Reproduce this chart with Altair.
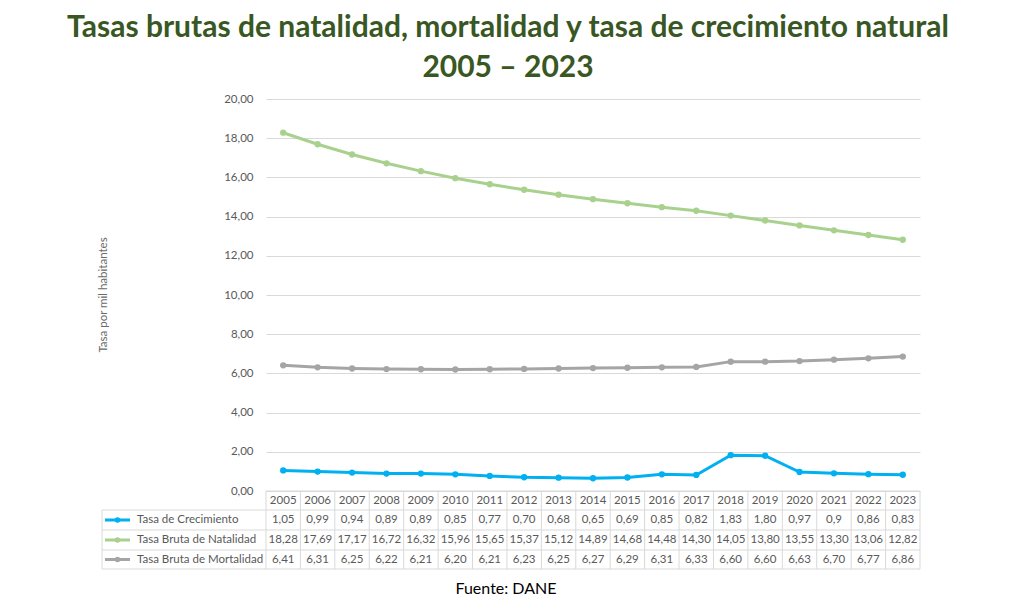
import altair as alt
import pandas as pd

years = [str(y) for y in range(2005, 2024)]
crecimiento = [1.05, 0.99, 0.94, 0.89, 0.89, 0.85, 0.77, 0.70, 0.68, 0.65,
               0.69, 0.85, 0.82, 1.83, 1.80, 0.97, 0.90, 0.86, 0.83]
natalidad = [18.28, 17.69, 17.17, 16.72, 16.32, 15.96, 15.65, 15.37, 15.12, 14.89,
             14.68, 14.48, 14.30, 14.05, 13.80, 13.55, 13.30, 13.06, 12.82]
mortalidad = [6.41, 6.31, 6.25, 6.22, 6.21, 6.20, 6.21, 6.23, 6.25, 6.27,
              6.29, 6.31, 6.33, 6.60, 6.60, 6.63, 6.70, 6.77, 6.86]
crecimiento_txt = ["1,05", "0,99", "0,94", "0,89", "0,89", "0,85", "0,77", "0,70", "0,68", "0,65",
                   "0,69", "0,85", "0,82", "1,83", "1,80", "0,97", "0,9", "0,86", "0,83"]
series = ["Tasa de Crecimiento", "Tasa Bruta de Natalidad", "Tasa Bruta de Mortalidad"]
colors = ["#00B0F0", "#A9D18E", "#A5A5A5"]
y_ticks = [0, 2, 4, 6, 8, 10, 12, 14, 16, 18, 20]
title_lines = ["Tasas brutas de natalidad, mortalidad y tasa de crecimiento natural", "2005 – 2023"]
y_title = "Tasa por mil habitantes"
source = "Fuente: DANE"


def fmt(v):
    return f"{v:.2f}".replace(".", ",")


values = [crecimiento, natalidad, mortalidad]
texts = [crecimiento_txt, [fmt(v) for v in natalidad], [fmt(v) for v in mortalidad]]
rows = []
for s, vals, txts in zip(series, values, texts):
    for y, v, t in zip(years, vals, txts):
        rows.append({"year": y, "serie": s, "valor": v, "texto": t})
df = pd.DataFrame(rows)

W, H = 654, 392
STEP = W / len(years)
FONT = "Lato"
GRAY_TXT = "#595959"
BORDER = "#D9D9D9"

xenc = alt.X("year:O", scale=alt.Scale(type="point", domain=years, padding=0.5), axis=None)
color_scale = alt.Scale(domain=series, range=colors)
yaxis = alt.Axis(values=y_ticks, title=None, domain=False, ticks=False, labelOverlap=False,
                 labelExpr="replace(format(datum.value, '.2f'), '.', ',')",
                 labelFont=FONT, labelFontSize=11.5, labelColor=GRAY_TXT, labelPadding=13,
                 grid=True, gridColor=BORDER, gridWidth=1)
yenc = alt.Y("valor:Q", scale=alt.Scale(domain=[0, 20], nice=False, zero=True), axis=yaxis)

base = alt.Chart(df)

lines = base.mark_line(strokeWidth=3).encode(
    x=xenc, y=yenc,
    color=alt.Color("serie:N", scale=color_scale, legend=None),
    detail="serie:N",
)
points = base.mark_point(filled=True, opacity=1, size=40).encode(
    x=xenc, y=yenc,
    color=alt.Color("serie:N", scale=color_scale, legend=None),
)

layers = [lines, points]

# table header (years)
yr_df = pd.DataFrame({"year": years})
header = alt.Chart(yr_df).mark_text(font=FONT, fontSize=11.5, color=GRAY_TXT, baseline="middle").encode(
    x=xenc, y=alt.value(401.5), text="year:N")
layers.append(header)

row_y = [421, 441, 460.5]
for s, c, ry in zip(series, colors, row_y):
    sub = alt.Chart(df[df["serie"] == s])
    layers.append(sub.mark_text(font=FONT, fontSize=11.5, color=GRAY_TXT, baseline="middle").encode(
        x=xenc, y=alt.value(ry), text="texto:N"))
    lab = alt.Chart(pd.DataFrame({"serie": [s]}))
    layers.append(lab.mark_rule(strokeWidth=3, color=c).encode(
        x=alt.value(-161), x2=alt.value(-136), y=alt.value(ry)))
    layers.append(lab.mark_point(filled=True, opacity=1, size=30, color=c).encode(
        x=alt.value(-148.5), y=alt.value(ry)))
    layers.append(lab.mark_text(font=FONT, fontSize=11.5, color=GRAY_TXT, align="left", baseline="middle").encode(
        x=alt.value(-129), y=alt.value(ry), text="serie:N"))

# table borders
vlines = alt.Chart(yr_df).mark_rule(color=BORDER, strokeWidth=1).encode(
    x=xenc, y=alt.value(H), y2=alt.value(470), xOffset=alt.value(-STEP / 2))
layers.append(vlines)
border_df = pd.DataFrame({"k": [0]})
bd = alt.Chart(border_df)
layers.append(bd.mark_rule(color=BORDER, strokeWidth=1).encode(
    x=alt.value(W), y=alt.value(H), y2=alt.value(470)))
layers.append(bd.mark_rule(color=BORDER, strokeWidth=1).encode(
    x=alt.value(-164), y=alt.value(411), y2=alt.value(470)))
layers.append(bd.mark_rule(color=BORDER, strokeWidth=1).encode(
    x=alt.value(0), x2=alt.value(W), y=alt.value(H)))
for hy in [411, 431, 451, 470]:
    layers.append(bd.mark_rule(color=BORDER, strokeWidth=1).encode(
        x=alt.value(-164), x2=alt.value(W), y=alt.value(hy)))

# titles
for t, ty in zip(title_lines, [-71, -31]):
    layers.append(alt.Chart(pd.DataFrame({"t": [t]})).mark_text(
        font=FONT, fontSize=30, fontWeight="bold", color="#385723", align="center", baseline="middle").encode(
        x=alt.value(242), y=alt.value(ty), text="t:N"))

layers.append(alt.Chart(pd.DataFrame({"t": [y_title]})).mark_text(
    font=FONT, fontSize=11.5, color="#6B6B6B", angle=270, align="center", baseline="middle").encode(
    x=alt.value(-162), y=alt.value(196), text="t:N"))

layers.append(alt.Chart(pd.DataFrame({"t": [source]})).mark_text(
    font=FONT, fontSize=16, fontWeight="normal", color="#000000", align="center", baseline="middle").encode(
    x=alt.value(240), y=alt.value(490), text="t:N"))

chart = alt.layer(*layers).properties(
    width=W, height=H,
    autosize=alt.AutoSizeParams(type="none"),
    padding={"left": 258, "top": 91, "right": 88, "bottom": 113},
).configure(background="white").configure_view(stroke=None)

chart.save("out.html", embed_options={"renderer": "svg", "actions": False})
